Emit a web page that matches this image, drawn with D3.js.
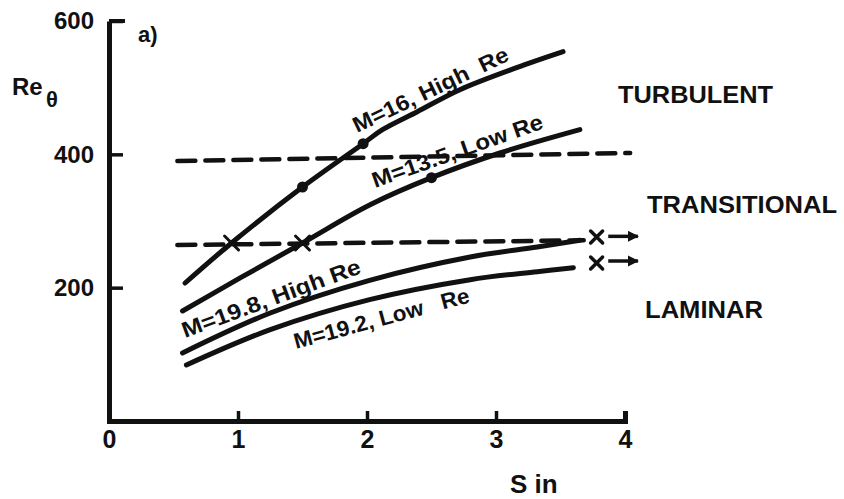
<!DOCTYPE html>
<html><head><meta charset="utf-8">
<script src="https://cdn.jsdelivr.net/npm/d3@7"></script>
<style>body{margin:0;background:#fff}svg{display:block}text{font-family:"Liberation Sans",Arial,sans-serif;font-weight:bold;fill:#111}</style>
</head><body><svg id="c" width="844" height="499"></svg>
<script>
// ---- data ----
const xTicks = [0, 1, 2, 3, 4];
const yTicks = [200, 400, 600];
const curveLabels = ["M=16, High  Re", "M=13.5, Low Re", "M=19.8, High Re", "M=19.2, Low   Re"];
const curveM16 = [[0.59,207],[0.95,267],[1.50,351],[1.97,416],[2.12,437],[2.39,464],[2.72,497],[3.16,530],[3.52,554]];
const curveM135 = [[0.57,165],[1.02,215],[1.50,267],[2.02,324],[2.50,365],[3.03,402],[3.65,437]];
const curveM198 = [[0.57,102],[1.25,162],[2.02,211],[2.80,246],[3.32,261],[3.65,271]];
const curveM192 = [[0.60,84],[1.25,137],[2.02,182],[2.80,212],[3.32,224],[3.60,230]];
const dashUpper = [[0.53,390],[4.04,402]];
const dashLower = [[0.53,264],[3.68,271]];
const dots = [[1.50,351],[1.97,416],[2.50,365]];
const crosses = [[0.95,267],[1.50,267]];
const endCrosses = [[3.78,276],[3.78,237]];
const arrows = [[[3.87,277],[4.10,277]],[[3.87,240],[4.10,240]]];
const regionLabels = ["TURBULENT", "TRANSITIONAL", "LAMINAR"];

// ---- drawing ----
const svg = d3.select("#c");
const x = d3.scaleLinear().domain([0,4]).range([109,625]);
const y = d3.scaleLinear().domain([0,600]).range([421,21]);
const ink = "#111";

svg.append("defs").append("marker").attr("id","ah")
  .attr("viewBox","0 0 10 10").attr("refX",9).attr("refY",5)
  .attr("markerWidth",3.2).attr("markerHeight",3.2).attr("orient","auto")
  .append("path").attr("d","M0,0 L10,5 L0,10 z").attr("fill",ink);

// axes
const gx = svg.append("g").attr("transform",`translate(0,${y(0)})`)
  .call(d3.axisBottom(x).tickValues(xTicks).tickFormat(d3.format("d")).tickSizeInner(-10).tickSizeOuter(-10).tickPadding(9));
const gy = svg.append("g").attr("transform",`translate(${x(0)},0)`)
  .call(d3.axisLeft(y).tickValues(yTicks).tickFormat(d3.format("d")).tickSizeInner(-14).tickSizeOuter(0).tickPadding(15));
[gx,gy].forEach(g=>{
  g.select(".domain").attr("stroke",ink).attr("stroke-width",5);
  g.selectAll(".tick line").attr("stroke",ink).attr("stroke-width",3.5);
  g.selectAll(".tick text").attr("font-family",null).attr("fill",ink);
});
gx.selectAll(".tick text").attr("font-size",25);
gy.selectAll(".tick text").attr("font-size",24);
gy.append("line").attr("x1",0).attr("x2",16).attr("y1",y(600)).attr("y2",y(600)).attr("stroke",ink).attr("stroke-width",4);

// dashed lines
const lineGen = d3.line().x(d=>x(d[0])).y(d=>y(d[1]));
[dashUpper,dashLower].forEach(d=>{
  svg.append("path").attr("d",lineGen(d)).attr("fill","none").attr("stroke",ink)
    .attr("stroke-width",4.5).attr("stroke-dasharray","18,10").attr("stroke-linecap","round");
});

// curves
const curveGen = d3.line().x(d=>x(d[0])).y(d=>y(d[1])).curve(d3.curveCatmullRom.alpha(0.5));
[curveM16,curveM135,curveM198,curveM192].forEach(d=>{
  svg.append("path").attr("d",curveGen(d)).attr("fill","none").attr("stroke",ink)
    .attr("stroke-width",5).attr("stroke-linecap","round");
});

// dots
svg.selectAll("circle.dot").data(dots).join("circle").attr("class","dot")
  .attr("cx",d=>x(d[0])).attr("cy",d=>y(d[1])).attr("r",5.5).attr("fill",ink);

// crosses on curves
function cross(px,py,s,w){
  svg.append("path").attr("d",`M${px-s},${py-s}L${px+s},${py+s}M${px+s},${py-s}L${px-s},${py+s}`)
    .attr("stroke",ink).attr("stroke-width",w).attr("stroke-linecap","round");
}
crosses.forEach(d=>cross(x(d[0]),y(d[1]),7,3));
endCrosses.forEach(d=>cross(x(d[0]),y(d[1]),6,3.5));
arrows.forEach(a=>{
  svg.append("line").attr("x1",x(a[0][0])).attr("y1",y(a[0][1])).attr("x2",x(a[1][0])).attr("y2",y(a[1][1]))
    .attr("stroke",ink).attr("stroke-width",3.5).attr("marker-end","url(#ah)");
});

// curve labels
const labelPos = [[357,133,-25.5,170],[375,188,-19.5,180],[185,338,-20.2,189],[296,349,-15,181]];
curveLabels.forEach((t,i)=>{
  const p = labelPos[i];
  svg.append("text").attr("transform",`translate(${p[0]},${p[1]}) rotate(${p[2]})`)
    .attr("font-size",22).attr("textLength",p[3]).attr("lengthAdjust","spacingAndGlyphs")
    .style("white-space","pre").text(t);
});

// region labels
const regionPos = [[618,103,155],[647,213,190],[645,318,118]];
regionLabels.forEach((t,i)=>{
  const p = regionPos[i];
  svg.append("text").attr("x",p[0]).attr("y",p[1]).attr("font-size",24)
    .attr("textLength",p[2]).attr("lengthAdjust","spacingAndGlyphs").text(t);
});

// axis titles
svg.append("text").attr("x",510).attr("y",493).attr("font-size",26).text("S in");
svg.append("text").attr("x",12).attr("y",95).attr("font-size",24).text("Re");
svg.append("text").attr("x",46).attr("y",107).attr("font-size",22).text("θ");
svg.append("text").attr("x",138).attr("y",42).attr("font-size",22).text("a)");
</script></body></html>
